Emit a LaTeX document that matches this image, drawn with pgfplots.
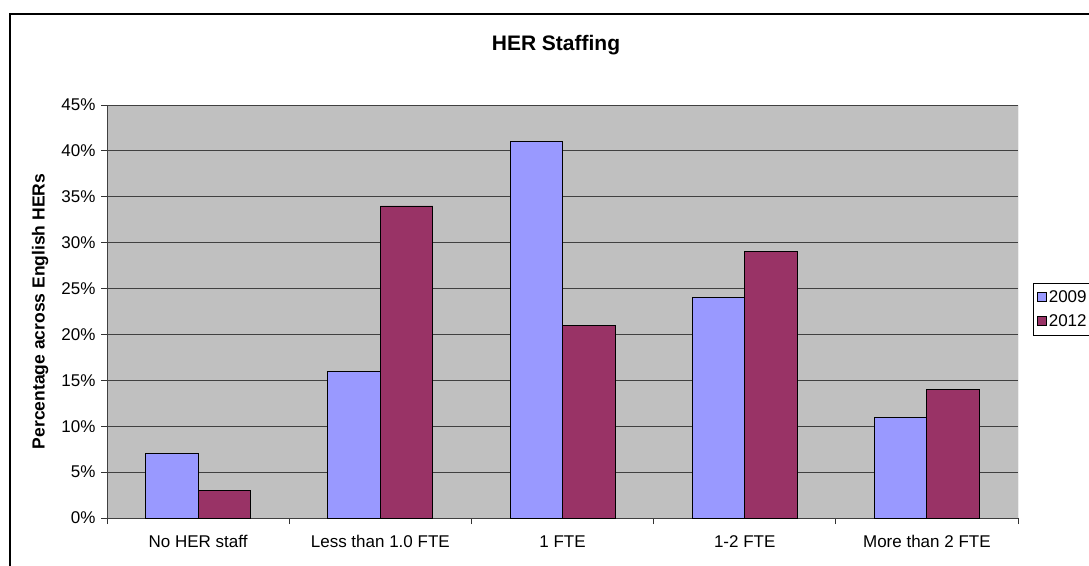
\documentclass[border=0pt]{standalone}
\usepackage{pgfplots}
\pgfplotsset{compat=1.18}
\usepackage{fontspec}
\setmainfont{Liberation Sans}
\definecolor{c09}{HTML}{9999FF}
\definecolor{c12}{HTML}{993366}
\definecolor{plotbg}{HTML}{C0C0C0}
\begin{document}
\begin{tikzpicture}
\useasboundingbox (0pt,0pt) rectangle (1089pt,565pt);
\clip (0pt,0pt) rectangle (1089pt,565pt);
\fill[white] (0pt,0pt) rectangle (1089pt,565pt);
\draw[line width=1.8pt] (10pt,-20pt) -- (10pt,551pt) -- (1120pt,551pt);
\node[font=\bfseries\fontsize{21}{25}\selectfont] at (556pt,520pt) {HER Staffing};
\begin{axis}[
  at={(107pt,47pt)}, anchor=south west,
  scale only axis, width=911pt, height=413pt,
  xmin=-0.5, xmax=4.5, ymin=0, ymax=45,
  ytick={0,5,...,45},
  yticklabel={\pgfmathprintnumber{\tick}\%},
  /pgf/number format/assume math mode=true,
  xtick={0,1,2,3,4},
  xticklabels={No HER staff, Less than 1.0 FTE, 1 FTE, 1-2 FTE, More than 2 FTE},
  minor xtick={-0.5,0.5,1.5,2.5,3.5,4.5},
  major x tick style={draw=none},
  minor x tick style={draw=black!80, line width=0.8pt},
  ytick style={draw=black!80, line width=0.8pt},
  tick align=outside,
  major tick length=6pt, minor tick length=6pt,
  axis x line*=bottom, axis y line*=left,
  axis line style={-, draw=black!75, line width=0.9pt},
  axis background/.style={fill=plotbg},
  ymajorgrids,
  grid style={draw=black!75, line width=0.8pt},
  ticklabel style={font=\fontsize{17}{20}\selectfont},
  xticklabel style={yshift=-8pt},
  yticklabel style={xshift=-2pt},
  ylabel={Percentage across English HERs},
  ylabel style={font=\bfseries\fontsize{17.5}{20}\selectfont, at={(axis description cs:-0.0735,0.5)}, anchor=center},
  ybar=0pt, bar width=52.5pt,
  legend style={at={(axis description cs:1.0165,0.569)}, anchor=north west,
    draw=black, fill=white, font=\fontsize{17}{20}\selectfont,
    inner xsep=4pt, inner ysep=5pt, row sep=7pt, cells={anchor=west}},
  legend image code/.code={\draw[#1, line width=0.6pt] (0pt,-4.5pt) rectangle (9pt,4.5pt);},
]
\addplot[fill=c09, draw=black, line width=0.9pt] coordinates {(0,7) (1,16) (2,41) (3,24) (4,11)};
\addplot[fill=c12, draw=black, line width=0.9pt] coordinates {(0,3) (1,34) (2,21) (3,29) (4,14)};
\legend{2009,2012}
\draw[draw=black!55, line width=0.9pt] (rel axis cs:1,0) -- (rel axis cs:1,1);
\end{axis}
\end{tikzpicture}
\end{document}
